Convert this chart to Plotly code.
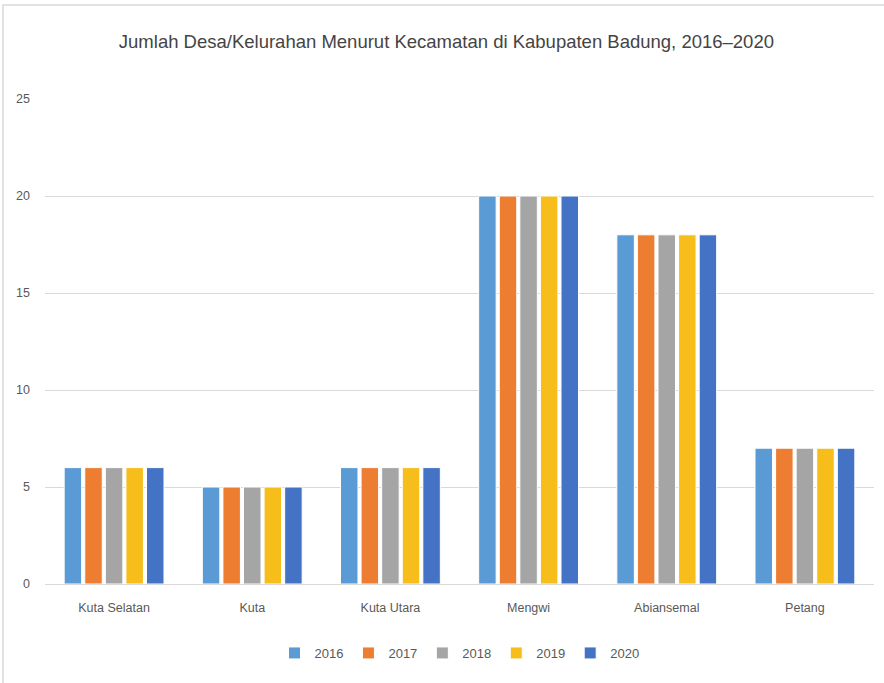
import plotly.graph_objects as go

categories = ["Kuta Selatan", "Kuta", "Kuta Utara", "Mengwi", "Abiansemal", "Petang"]
years = ["2016", "2017", "2018", "2019", "2020"]
values = {
    "2016": [6, 5, 6, 20, 18, 7],
    "2017": [6, 5, 6, 20, 18, 7],
    "2018": [6, 5, 6, 20, 18, 7],
    "2019": [6, 5, 6, 20, 18, 7],
    "2020": [6, 5, 6, 20, 18, 7],
}
colors = ["#5B9BD5", "#ED7D31", "#A5A5A5", "#F7BD1B", "#4472C4"]

W, H = 884, 683
ml, mr, mt, mb = 45, 10, 99, 99
pw, ph = W - ml - mr, H - mt - mb

font_family = "Liberation Sans, Arial, sans-serif"

fig = go.Figure()
for y, c in zip(years, colors):
    fig.add_trace(go.Bar(
        name=y, x=categories, y=values[y],
        marker=dict(color=c, line=dict(color="white", width=1)),
    ))

fig.update_layout(
    width=W, height=H,
    margin=dict(l=ml, r=mr, t=mt, b=mb, autoexpand=False),
    paper_bgcolor="white", plot_bgcolor="white",
    barmode="group", bargap=0.255, bargroupgap=0.15,
    font=dict(family=font_family, color="#595959", size=12),
    title=dict(
        text="Jumlah Desa/Kelurahan Menurut Kecamatan di Kabupaten Badung, 2016\u20132020",
        x=0.505, xanchor="center", y=1 - 42 / H, yanchor="middle",
        font=dict(size=18.5, color="#444444", family=font_family),
    ),
    xaxis=dict(showgrid=False, showline=False, ticks="", tickfont=dict(size=12.5),
               ticklabelstandoff=14, automargin=False),
    yaxis=dict(range=[0, 25], dtick=5, showgrid=True, gridcolor="#D9D9D9", gridwidth=1.3,
               zeroline=True, zerolinecolor="#D9D9D9", zerolinewidth=1.3,
               showline=False, ticks="", tickfont=dict(size=12.5),
               ticklabelstandoff=14, automargin=False),
    legend=dict(orientation="h", x=0.5, xanchor="center", y=-(653 - 584) / ph, yanchor="middle",
                font=dict(size=13), traceorder="normal", itemwidth=30),
    showlegend=True,
    shapes=[dict(type="rect", xref="paper", yref="paper",
                 x0=(3 - ml) / pw, x1=(W + 10 - ml) / pw,
                 y0=-(mb + 10) / ph,
                 y1=1 + (mt - 5) / ph,
                 line=dict(color="#D9D9D9", width=1.5))],
)

fig.write_html("out.html", config={"displayModeBar": False},
               post_script="document.body.style.margin='0';")
